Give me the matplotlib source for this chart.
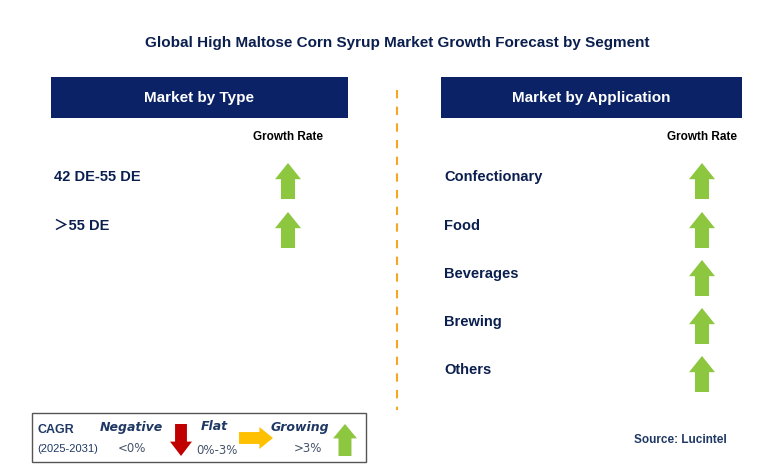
import matplotlib
matplotlib.use("Agg")
import matplotlib.pyplot as plt
from matplotlib.patches import Rectangle, Polygon

title = "Global High Maltose Corn Syrup Market Growth Forecast by Segment"
type_segments = ["42 DE-55 DE", "＞55 DE"]
type_growth = ["growing", "growing"]
app_segments = ["Confectionary", "Food", "Beverages", "Brewing", "Others"]
app_growth = ["growing", "growing", "growing", "growing", "growing"]

NAVY = "#0b2366"
GREEN = "#8dc63f"
RED = "#c00000"
YEL = "#ffc000"
TXT = "#0b1f4f"
FAM = ["Liberation Sans", "Noto Sans CJK SC"]

fig = plt.figure(figsize=(7.6, 4.67), dpi=100)
ax = fig.add_axes([0, 0, 1, 1])
ax.set_xlim(0, 760); ax.set_ylim(467, 0); ax.axis("off")

ax.text(397, 43, title, ha="center", va="center", fontsize=11, color=TXT, family=FAM, weight="semibold")

def up(cx, cy, w=26, h=36, c=GREEN):
    hw = w / 2; sw = w * 0.27
    pts = [(cx, cy - h/2), (cx + hw, cy - h/2 + h*0.45), (cx + sw, cy - h/2 + h*0.45),
           (cx + sw, cy + h/2), (cx - sw, cy + h/2), (cx - sw, cy - h/2 + h*0.45),
           (cx - hw, cy - h/2 + h*0.45)]
    ax.add_patch(Polygon(pts, closed=True, color=c, lw=0))

def down(cx, cy, w=24, h=34, c=RED):
    hw = w / 2; sw = w * 0.27
    pts = [(cx, cy + h/2), (cx + hw, cy + h/2 - h*0.45), (cx + sw, cy + h/2 - h*0.45),
           (cx + sw, cy - h/2), (cx - sw, cy - h/2), (cx - sw, cy + h/2 - h*0.45),
           (cx - hw, cy + h/2 - h*0.45)]
    ax.add_patch(Polygon(pts, closed=True, color=c, lw=0))

def right(cx, cy, w=34, h=22, c=YEL):
    hh = h / 2; sh = h * 0.27
    pts = [(cx + w/2, cy), (cx + w/2 - w*0.4, cy - hh), (cx + w/2 - w*0.4, cy - sh),
           (cx - w/2, cy - sh), (cx - w/2, cy + sh), (cx + w/2 - w*0.4, cy + sh),
           (cx + w/2 - w*0.4, cy + hh)]
    ax.add_patch(Polygon(pts, closed=True, color=c, lw=0))

def panel(x0, x1, header, cats, growth, ys, arrow_x):
    ax.add_patch(Rectangle((x0, 77), x1 - x0, 41, color=NAVY, lw=0))
    ax.text((x0 + x1) / 2, 98, header, ha="center", va="center", fontsize=11, color="white",
            family=FAM, weight="semibold")
    ax.text(arrow_x, 137, "Growth Rate", ha="center", va="center", fontsize=8.5, color="black",
            family=FAM, weight="bold")
    for c, g, y in zip(cats, growth, ys):
        ax.text(x0 + 3, y, c, ha="left", va="center", fontsize=10.5, color=TXT, family=FAM,
                weight="semibold")
        if g == "growing":
            up(arrow_x, y + 4)

panel(51, 348, "Market by Type", type_segments, type_growth, [177, 226], 288)
panel(441, 742, "Market by Application", app_segments, app_growth, [177, 226, 274, 322, 370], 702)

ax.plot([397, 397], [90, 410], color="#f5a623", lw=1.5, ls=(0, (4, 4)))

# legend
ax.add_patch(Rectangle((32, 413), 334, 49, fill=False, ec="#555555", lw=1))
ax.text(37, 430, "CAGR", fontsize=9, weight="bold", color="#1f3864", va="center", family=FAM)
ax.text(37, 449, "(2025-2031)", fontsize=8, color="#1f3864", va="center", family=FAM)
ax.text(131, 427, "Negative", fontsize=9, weight="bold", style="italic", color="#1f3864", ha="center", va="center")
ax.text(132, 449, "<0%", fontsize=8.5, color="#44546a", ha="center", va="center")
down(181, 440, w=22, h=32)
ax.text(214, 427, "Flat", fontsize=9, weight="bold", style="italic", color="#1f3864", ha="center", va="center")
ax.text(217, 450, "0%-3%", fontsize=8.5, color="#44546a", ha="center", va="center")
right(256, 438, w=34, h=22)
ax.text(300, 427, "Growing", fontsize=9, weight="bold", style="italic", color="#1f3864", ha="center", va="center")
ax.text(308, 449, ">3%", fontsize=8.5, color="#44546a", ha="center", va="center")
up(345, 440, w=24, h=32)

ax.text(727, 440, "Source: Lucintel", ha="right", va="center", fontsize=8.5, weight="bold",
        color="#1f3864", family=FAM)

fig.savefig("out.png", dpi=100)
